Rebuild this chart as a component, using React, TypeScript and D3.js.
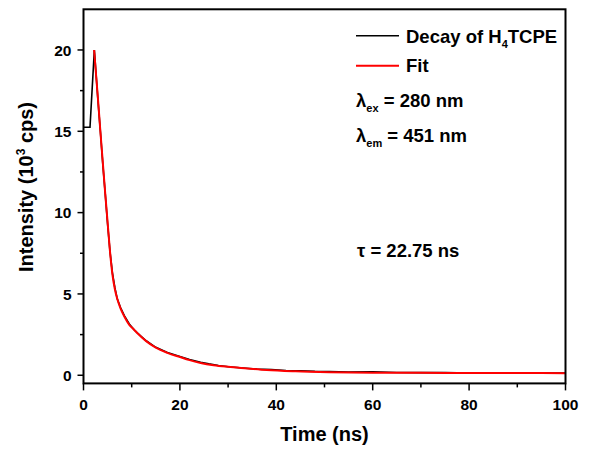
import React from "react";
import * as d3 from "d3";

const decayTime = [0, 1.35, 2.25, 3.0, 3.5, 4.0, 4.5, 5.0, 5.5, 6.0, 6.5, 7.0, 7.7, 8.5, 9.5, 10.5, 11.2, 13, 15, 17.4, 20, 22, 24.3, 26, 28, 30, 33, 36, 39, 42, 45, 48, 51, 55, 60, 65, 70, 75, 80, 85, 90, 95, 100];
const decayValue = [15.25, 15.25, 20.0, 16.9, 15.0, 13.0, 11.2, 9.3, 7.6, 6.3, 5.4, 4.7, 4.15, 3.65, 3.15, 2.8, 2.6, 2.12, 1.72, 1.4, 1.15, 0.97, 0.8, 0.7, 0.6, 0.52, 0.45, 0.38, 0.35, 0.29, 0.27, 0.24, 0.23, 0.2, 0.21, 0.17, 0.16, 0.17, 0.14, 0.15, 0.13, 0.14, 0.13];

const fitTime = [2.2, 3.0, 3.5, 4.0, 4.5, 5.0, 5.5, 6.0, 6.5, 7.0, 7.7, 8.5, 9.5, 10.5, 11.2, 13, 15, 17.4, 20, 22, 24.3, 27, 30, 34, 38, 44, 51, 60, 70, 80, 90, 100];
const fitValue = [20.0, 17.0, 15.0, 13.1, 11.2, 9.4, 7.6, 6.2, 5.3, 4.7, 4.1, 3.6, 3.1, 2.8, 2.58, 2.1, 1.7, 1.38, 1.12, 0.93, 0.76, 0.62, 0.52, 0.42, 0.32, 0.24, 0.19, 0.16, 0.15, 0.14, 0.135, 0.13];

const xTicks = [0, 20, 40, 60, 80, 100];
const xMinor = [10, 30, 50, 70, 90];
const yTicks = [0, 5, 10, 15, 20];
const yMinor = [2.5, 7.5, 12.5, 17.5];

const FONT = "'Liberation Sans', Arial, sans-serif";

export default function App() {
  const W = 605, H = 453;
  const x = d3.scaleLinear().domain([0, 100]).range([83.5, 565.5]);
  const y = d3.scaleLinear().domain([-0.5, 22.5]).range([383.4, 9.3]);
  const dataLine = d3.line<[number, number]>().x(d => x(d[0])).y(d => y(d[1])).curve(d3.curveLinear);
  const fitLine = d3.line<[number, number]>().x(d => x(d[0])).y(d => y(d[1])).curve(d3.curveMonotoneX);
  const decayPts = decayTime.map((t, i) => [t, decayValue[i]] as [number, number]);
  const fitPts = fitTime.map((t, i) => [t, fitValue[i]] as [number, number]);
  const [x0, x1] = x.range();
  const [yb, yt] = y.range();

  return (
    <svg width={W} height={H} style={{ position: "absolute", left: 0, top: 0, background: "#fff" }} fontFamily={FONT} fontWeight="bold">
      <rect x={0} y={0} width={W} height={H} fill="#fff" />
      <path d={dataLine(decayPts) || ""} fill="none" stroke="#000" strokeWidth={1.6} strokeLinejoin="miter" />
      <path d={fitLine(fitPts) || ""} fill="none" stroke="#ff0000" strokeWidth={2} />
      {/* frame */}
      <rect x={x0} y={yt} width={x1 - x0} height={yb - yt} fill="none" stroke="#000" strokeWidth={2} />
      {/* y ticks */}
      {yTicks.map(v => (
        <g key={"y" + v}>
          <line x1={x0 - 6} x2={x0} y1={y(v)} y2={y(v)} stroke="#000" strokeWidth={1.5} />
          <text x={x0 - 12} y={y(v)} dy="0.36em" textAnchor="end" fontSize={15.5}>{v}</text>
        </g>
      ))}
      {yMinor.map(v => (
        <line key={"ym" + v} x1={x0 - 3.5} x2={x0} y1={y(v)} y2={y(v)} stroke="#000" strokeWidth={1.5} />
      ))}
      {/* x ticks */}
      {xTicks.map(v => (
        <g key={"x" + v}>
          <line x1={x(v)} x2={x(v)} y1={yb} y2={yb + 7} stroke="#000" strokeWidth={1.5} />
          <text x={x(v)} y={410} textAnchor="middle" fontSize={15.5}>{v}</text>
        </g>
      ))}
      {xMinor.map(v => (
        <line key={"xm" + v} x1={x(v)} x2={x(v)} y1={yb} y2={yb + 4} stroke="#000" strokeWidth={1.5} />
      ))}
      {/* axis titles */}
      <text x={(x0 + x1) / 2} y={441} textAnchor="middle" fontSize={20}>Time (ns)</text>
      <text transform="translate(33,187) rotate(-90)" textAnchor="middle" fontSize={20}>
        Intensity (10<tspan dy={-8} fontSize={12}>3</tspan><tspan dy={8}> cps)</tspan>
      </text>
      {/* legend */}
      <line x1={356} x2={399} y1={35.7} y2={35.7} stroke="#000" strokeWidth={1.6} />
      <text x={406} y={42.7} fontSize={18.5}>Decay of H<tspan dy={5} fontSize={11}>4</tspan><tspan dy={-5}>TCPE</tspan></text>
      <line x1={356} x2={399} y1={65.7} y2={65.7} stroke="#ff0000" strokeWidth={2} />
      <text x={406} y={72} fontSize={18.5}>Fit</text>
      <text x={356} y={107} fontSize={18.5}>λ<tspan dy={5} fontSize={11}>ex</tspan><tspan dy={-5}> = 280 nm</tspan></text>
      <text x={356} y={141.7} fontSize={18.5}>λ<tspan dy={5} fontSize={11}>em</tspan><tspan dy={-5}> = 451 nm</tspan></text>
      <text x={357} y={256.7} fontSize={18.5}>τ = 22.75 ns</text>
    </svg>
  );
}
